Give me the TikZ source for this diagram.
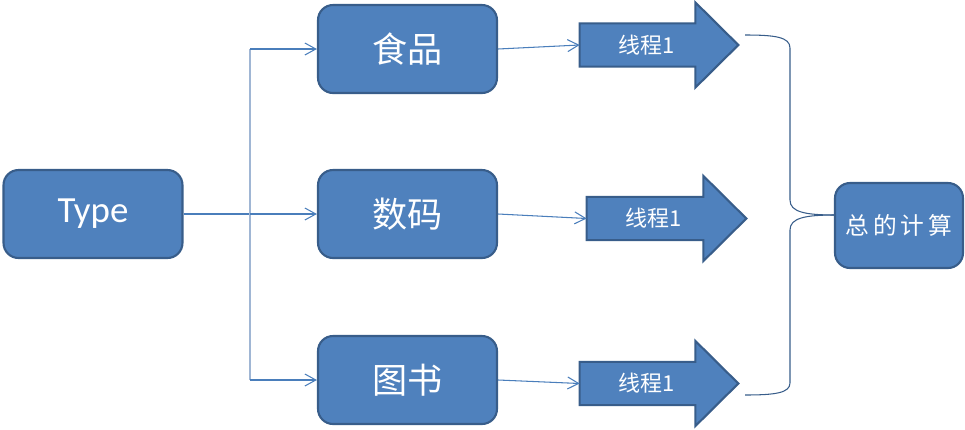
\documentclass[tikz,border=0pt]{standalone}
\usepackage{fontspec}
\setmainfont{Carlito}
\newfontfamily\cjk{Noto Sans CJK SC}
\usetikzlibrary{positioning,calc,arrows.meta,backgrounds}
\definecolor{BoxBlue}{RGB}{79,129,189}
\definecolor{EdgeBlue}{RGB}{56,93,138}
\definecolor{LineBlue}{RGB}{74,126,187}
\definecolor{PaleBlue}{RGB}{160,182,212}
\tikzset{
    catnode/.style={rectangle, rounded corners=0.3cm, draw=EdgeBlue, fill=BoxBlue, line width=1.2pt, text=white, minimum width=3.58cm, minimum height=1.76cm, inner sep=0pt},
    shaftnode/.style={rectangle, text=white, minimum width=2.3cm, minimum height=0.85cm, inner sep=0pt, font=\cjk\fontsize{12.5}{15}\selectfont},
    arrowbody/.style={draw=EdgeBlue, fill=BoxBlue, line width=1.2pt, line join=miter},
    link/.style={draw=LineBlue, line width=0.6pt, -{Straight Barb[length=0.22cm,width=0.24cm]}},
    brace/.style={draw=EdgeBlue, line width=0.6pt}
}

\begin{document}
\begin{tikzpicture}[x=0.02cm, y=-0.02cm]
    \useasboundingbox (0,0) rectangle (965,430);

    % category boxes
    \node[catnode, font=\fontsize{21}{24}\selectfont] (type) at (93,214) {Type};
    \node[catnode, font=\cjk\fontsize{20}{24}\selectfont] (food) at (407.5,49) {食品};
    \node[catnode, font=\cjk\fontsize{20}{24}\selectfont] (digital) at (407.5,214) {数码};
    \node[catnode, font=\cjk\fontsize{20}{24}\selectfont] (book) at (407.5,380) {图书};
    \node[catnode, minimum width=2.56cm, minimum height=1.7cm, font=\cjk\fontsize{13.5}{16}\selectfont] (total) at (899,225.5) {总\,的\,计\,算};

    % thread arrows
    \node[shaftnode] (t1) at (637.5,45) {\hspace*{0.35cm}线程1};
    \node[shaftnode, minimum width=2.32cm] (t2) at (645,218.5) {\hspace*{0.35cm}线程1};
    \node[shaftnode] (t3) at (637.5,383.5) {\hspace*{0.35cm}线程1};
    \begin{scope}[on background layer]
        \foreach \t in {t1,t2,t3}
            \draw[arrowbody] (\t.north west) -- (\t.north east) -- ++(0,-21)
                -- ($(\t.east)+(43,0)$) -- ($(\t.south east)+(0,21)$)
                -- (\t.south east) -- (\t.south west) -- cycle;
    \end{scope}

    % split from Type
    \coordinate (split) at (250,214);
    \coordinate (splittop) at (250,49);
    \coordinate (splitbot) at (250,380);
    \draw[draw=LineBlue, line width=0.6pt] (type.east) -- (split);
    \draw[draw=PaleBlue, line width=0.8pt] (splittop) -- (splitbot);
    \draw[link] (splittop) -- (food.west);
    \draw[link] (split) -- (digital.west);
    \draw[link] (splitbot) -- (book.west);

    % boxes to threads
    \draw[link] (food.east) -- (t1.west);
    \draw[link] (digital.east) -- (t2.west);
    \draw[link] (book.east) -- (t3.west);

    % brace
    \coordinate (bt) at (745,35);
    \coordinate (bb) at (745,395);
    \coordinate (tip) at (835,215);
    \draw[brace] (bt) .. controls (775,35) and (790,37) .. (790,48) -- (790,200)
        .. controls (790,212) and (805,215) .. (tip);
    \draw[brace] (tip) .. controls (805,215) and (790,218) .. (790,230) -- (790,383)
        .. controls (790,393) and (775,395) .. (bb);
\end{tikzpicture}
\end{document}
